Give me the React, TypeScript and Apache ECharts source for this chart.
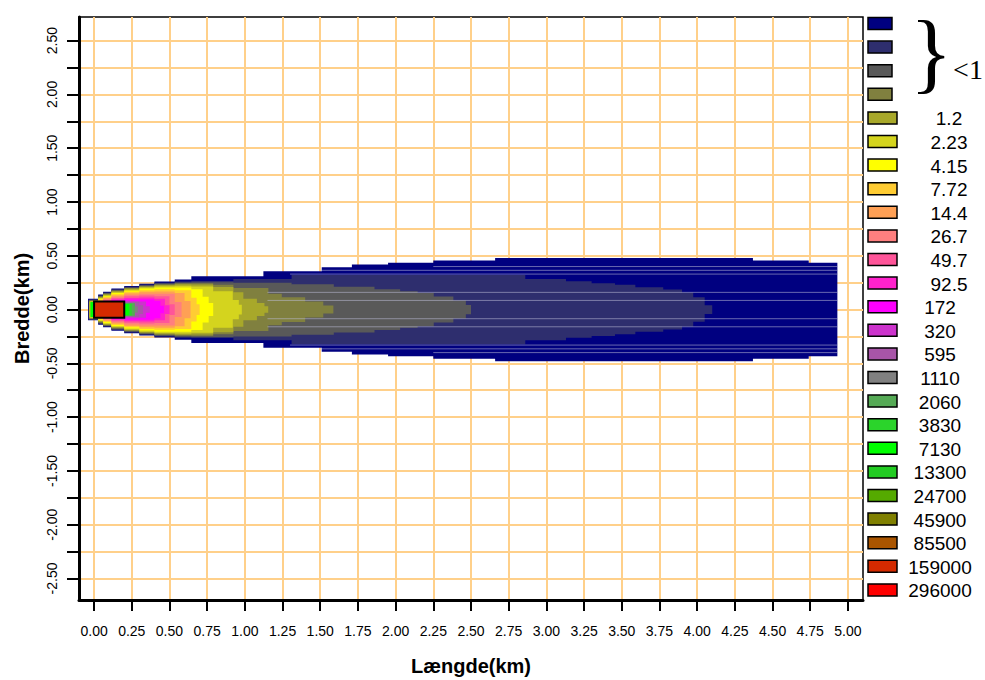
import React, { useEffect, useRef } from 'react';
import * as echarts from 'echarts';

// ---- axis ticks / labels ----
const xTickValues = [0, 0.25, 0.5, 0.75, 1, 1.25, 1.5, 1.75, 2, 2.25, 2.5, 2.75, 3, 3.25, 3.5, 3.75, 4, 4.25, 4.5, 4.75, 5];
const yTickValues = [-2.5, -2.25, -2, -1.75, -1.5, -1.25, -1, -0.75, -0.5, -0.25, 0, 0.25, 0.5, 0.75, 1, 1.25, 1.5, 1.75, 2, 2.25, 2.5];
const yLabelValues = [-2.5, -2, -1.5, -1, -0.5, 0, 0.5, 1, 1.5, 2, 2.5];

// ---- legend levels (top -> bottom) ----
const levelLabels = ['', '', '', '', '1.2', '2.23', '4.15', '7.72', '14.4', '26.7', '49.7', '92.5', '172', '320', '595', '1110', '2060', '3830', '7130', '13300', '24700', '45900', '85500', '159000', '296000'];
const levelColors = ['#000080', '#2E2E6E', '#595959', '#80803F', '#A8A82A', '#D4D41E', '#FFFF00', '#FFCC33', '#FFA055', '#FF7F7F', '#FF5599', '#FF22CC', '#FF00FF', '#CC33CC', '#A855A8', '#808080', '#55AA55', '#2BD42B', '#00FF00', '#22CC22', '#55AA00', '#808000', '#AA5500', '#D42A00', '#FF0000'];

// ---- plume contours: [x (km) from which the half-width applies, half-width (km)]; last entry = end ----
const band0 = [[-0.04, 0.10], [0.027, 0.14], [0.06, 0.165], [0.115, 0.196], [0.2, 0.22], [0.3, 0.24], [0.4, 0.26], [0.535, 0.28], [0.645, 0.31], [1.123, 0.356], [1.51, 0.393], [1.71, 0.418], [1.95, 0.435], [2.25, 0.457], [2.66, 0.48], [4.37, 0.457], [4.74, 0.435], [4.93, 0]];
const band1 = [[-0.035, 0.095], [0.027, 0.133], [0.06, 0.158], [0.115, 0.19], [0.2, 0.213], [0.3, 0.233], [0.4, 0.25], [0.535, 0.262], [0.645, 0.265], [0.924, 0.285], [1.31, 0.322], [2.86, 0.285], [3.13, 0.263], [3.30, 0.245], [3.455, 0.23], [3.59, 0.207], [3.775, 0.186], [3.90, 0.158], [3.974, 0.114], [4.05, 0.04], [4.10, 0]];
const band2 = [[-0.035, 0.09], [0.027, 0.127], [0.06, 0.152], [0.115, 0.183], [0.2, 0.206], [0.3, 0.226], [0.4, 0.243], [0.535, 0.252], [0.645, 0.255], [0.924, 0.25], [1.31, 0.235], [1.59, 0.213], [1.86, 0.19], [2.03, 0.17], [2.146, 0.155], [2.253, 0.121], [2.383, 0.084], [2.466, 0.043], [2.50, 0]];
const band3 = [[-0.032, 0.085], [0.027, 0.12], [0.06, 0.146], [0.115, 0.176], [0.2, 0.2], [0.3, 0.22], [0.4, 0.236], [0.535, 0.244], [0.645, 0.245], [0.79, 0.23], [0.924, 0.2], [1.156, 0.146], [1.245, 0.115], [1.40, 0.074], [1.52, 0.037], [1.587, 0]];
const band1p2 = [[-0.03, 0.08], [0.027, 0.114], [0.06, 0.14], [0.115, 0.17], [0.2, 0.193], [0.3, 0.213], [0.4, 0.228], [0.535, 0.235], [0.645, 0.232], [0.79, 0.21], [0.924, 0.16], [0.99, 0.1], [1.08, 0.06], [1.13, 0.03], [1.155, 0]];
const band2p23 = [[-0.03, 0.075], [0.027, 0.107], [0.06, 0.133], [0.115, 0.162], [0.2, 0.185], [0.3, 0.205], [0.4, 0.218], [0.535, 0.222], [0.645, 0.215], [0.79, 0.17], [0.92, 0.09], [0.96, 0.045], [0.98, 0]];
const band4p15 = [[-0.028, 0.07], [0.027, 0.1], [0.06, 0.125], [0.115, 0.153], [0.2, 0.176], [0.3, 0.195], [0.4, 0.205], [0.535, 0.205], [0.645, 0.19], [0.72, 0.12], [0.76, 0.06], [0.79, 0]];
const band7p72 = [[-0.026, 0.065], [0.027, 0.093], [0.06, 0.116], [0.115, 0.143], [0.2, 0.165], [0.3, 0.18], [0.4, 0.188], [0.535, 0.18], [0.645, 0.11], [0.68, 0.05], [0.70, 0]];
const band14p4 = [[-0.024, 0.06], [0.027, 0.085], [0.06, 0.107], [0.115, 0.132], [0.2, 0.152], [0.3, 0.165], [0.4, 0.168], [0.535, 0.155], [0.6, 0.08], [0.64, 0]];
const band26p7 = [[-0.022, 0.055], [0.027, 0.078], [0.06, 0.098], [0.115, 0.12], [0.2, 0.138], [0.3, 0.148], [0.4, 0.148], [0.535, 0.07], [0.58, 0]];
const band49p7 = [[-0.02, 0.05], [0.027, 0.07], [0.06, 0.088], [0.115, 0.108], [0.2, 0.123], [0.3, 0.13], [0.4, 0.125], [0.5, 0.05], [0.535, 0]];
const band92p5 = [[-0.018, 0.045], [0.027, 0.063], [0.06, 0.079], [0.115, 0.096], [0.2, 0.108], [0.3, 0.112], [0.4, 0.10], [0.47, 0.04], [0.50, 0]];
const band172 = [[-0.016, 0.04], [0.027, 0.056], [0.06, 0.07], [0.115, 0.085], [0.2, 0.094], [0.3, 0.095], [0.4, 0.08], [0.44, 0.035], [0.464, 0]];
const band320 = [[-0.014, 0.035], [0.027, 0.05], [0.06, 0.062], [0.115, 0.075], [0.2, 0.08], [0.3, 0.075], [0.345, 0.03], [0.37, 0]];
const band595 = [[-0.012, 0.03], [0.027, 0.045], [0.06, 0.055], [0.115, 0.066], [0.2, 0.07], [0.3, 0.04], [0.325, 0]];
const band1110 = [[-0.01, 0.027], [0.027, 0.04], [0.06, 0.05], [0.115, 0.06], [0.2, 0.062], [0.27, 0.03], [0.29, 0]];
const band2060 = [[-0.008, 0.024], [0.027, 0.036], [0.06, 0.046], [0.115, 0.055], [0.2, 0.058], [0.27, 0]];
const band3830 = [[-0.006, 0.021], [0.027, 0.033], [0.06, 0.042], [0.115, 0.05], [0.2, 0.055], [0.25, 0]];
const band7130 = [[-0.025, 0.07], [0.0, 0.03], [0.027, 0.03], [0.06, 0.04], [0.115, 0.048], [0.2, 0.052], [0.23, 0]];

const plumeContours = [band0, band1, band2, band3, band1p2, band2p23, band4p15, band7p72, band14p4, band26p7, band49p7, band92p5, band172, band320, band595, band1110, band2060, band3830, band7130];

// faint horizontal streaks inside the plume: [y (km), x start, x end]
const streakLines = [
  [0.40, 2.25, 4.93], [0.365, 1.5, 4.93], [0.33, 1.3, 4.93], [0.16, 1.15, 4.93], [0.085, 1.15, 4.93],
  [-0.085, 1.15, 4.93], [-0.16, 1.15, 4.93], [-0.33, 1.3, 4.93], [-0.365, 1.5, 4.93], [-0.40, 2.25, 4.93],
];

// source box [x0, x1, y0, y1] in km
const sourceBox = [[0, 0.2, -0.075, 0.075]];

const FONT = "'Liberation Sans', Arial, sans-serif";
const SERIF = "'Liberation Serif', 'Times New Roman', serif";

export default function App() {
  const ref = useRef<HTMLDivElement>(null);

  useEffect(() => {
    document.body.style.margin = '0';
    if (!ref.current) return;
    const chart = echarts.init(ref.current, undefined, { renderer: 'svg' });

    const legendGraphics: any[] = [];
    levelColors.forEach((c, i) => {
      const cy = 23.5 + i * 23.6;
      legendGraphics.push({
        type: 'rect',
        shape: { x: 868, y: cy - 6, width: i < 4 ? 24 : 29, height: 12 },
        style: { fill: c, stroke: '#000', lineWidth: 1.5 },
        z: 10,
      });
      const lab = levelLabels[i];
      if (lab) {
        legendGraphics.push({
          type: 'text',
          x: 940 + (lab.includes('.') ? 9 : 0),
          y: cy + 1,
          style: { text: lab, font: `19px ${FONT}`, fill: '#000', textAlign: 'center', textVerticalAlign: 'middle' },
          z: 10,
        });
      }
    });
    legendGraphics.push({
      type: 'text', x: 931, y: 52,
      style: { text: '}', font: `88px ${SERIF}`, fill: '#000', textAlign: 'center', textVerticalAlign: 'middle' },
      z: 10,
    });
    legendGraphics.push({
      type: 'text', x: 968, y: 69,
      style: { text: '<1', font: `28px ${SERIF}`, fill: '#000', textAlign: 'center', textVerticalAlign: 'middle' },
      z: 10,
    });

    const option: any = {
      animation: false,
      backgroundColor: '#fff',
      grid: { left: 79, right: 122, top: 17, bottom: 80, show: true, borderColor: '#000', borderWidth: 1.5, backgroundColor: 'transparent', containLabel: false, outerBoundsMode: 'none' },
      xAxis: {
        type: 'value', min: -0.1, max: 5.1, position: 'bottom',
        name: 'Længde(km)', nameLocation: 'middle', nameGap: 56,
        nameTextStyle: { fontWeight: 'bold', fontSize: 20, color: '#000', fontFamily: FONT },
        axisLine: { show: true, onZero: false, lineStyle: { color: '#000', width: 3 } },
        axisTick: { show: true, customValues: xTickValues, length: 11, lineStyle: { color: '#000', width: 2 } },
        axisLabel: { customValues: xTickValues, formatter: (v: number) => v.toFixed(2), margin: 24, fontSize: 14, color: '#000', fontFamily: FONT },
        splitLine: { show: true, lineStyle: { color: '#FFD08A', width: 2 } },
      },
      yAxis: {
        type: 'value', min: -2.7, max: 2.72, position: 'left',
        name: 'Bredde(km)', nameLocation: 'middle', nameGap: 47,
        nameTextStyle: { fontWeight: 'bold', fontSize: 20, color: '#000', fontFamily: FONT },
        axisLine: { show: true, onZero: false, lineStyle: { color: '#000', width: 3 } },
        axisTick: { show: true, customValues: yTickValues, length: 12, lineStyle: { color: '#000', width: 2 } },
        axisLabel: { customValues: yLabelValues, formatter: (v: number) => v.toFixed(2), rotate: 90, margin: 20, fontSize: 14, color: '#000', fontFamily: FONT },
        splitLine: { show: true, lineStyle: { color: '#FFD08A', width: 2 } },
      },
      series: [
        {
          type: 'custom',
          coordinateSystem: 'cartesian2d',
          data: plumeContours.map((b, i) => [b[0][0], 0, i]),
          renderItem: (_p: any, api: any) => {
            const i = api.value(2);
            const steps = plumeContours[i];
            const top: number[][] = [];
            const bot: number[][] = [];
            for (let k = 0; k < steps.length - 1; k++) {
              const x0 = steps[k][0];
              const h = steps[k][1];
              const x1 = steps[k + 1][0];
              top.push(api.coord([x0, h]), api.coord([x1, h]));
              bot.push(api.coord([x0, -h]), api.coord([x1, -h]));
            }
            const pts = top.concat(bot.reverse());
            return { type: 'polygon', shape: { points: pts }, style: { fill: levelColors[i], stroke: null } };
          },
          z: 3,
        },
        {
          type: 'custom',
          coordinateSystem: 'cartesian2d',
          data: streakLines.map((s) => [s[1], s[0], s[2]]),
          renderItem: (_p: any, api: any) => {
            const p0 = api.coord([api.value(0), api.value(1)]);
            const p1 = api.coord([api.value(2), api.value(1)]);
            return {
              type: 'line',
              shape: { x1: p0[0], y1: p0[1], x2: p1[0], y2: p1[1] },
              style: { stroke: 'rgba(190,190,215,0.55)', lineWidth: 1 },
            };
          },
          z: 4,
        },
        {
          type: 'custom',
          coordinateSystem: 'cartesian2d',
          data: sourceBox.map((b) => [b[0], b[2], b[1], b[3]]),
          renderItem: (_p: any, api: any) => {
            const p0 = api.coord([api.value(0), api.value(3)]);
            const p1 = api.coord([api.value(2), api.value(1)]);
            return {
              type: 'rect',
              shape: { x: p0[0], y: p0[1], width: p1[0] - p0[0], height: p1[1] - p0[1] },
              style: { fill: levelColors[23], stroke: '#000', lineWidth: 2 },
            };
          },
          z: 5,
        },
      ],
      graphic: legendGraphics,
    };
    chart.setOption(option);
    return () => chart.dispose();
  }, []);

  return <div ref={ref} style={{ width: 985, height: 680 }} />;
}
